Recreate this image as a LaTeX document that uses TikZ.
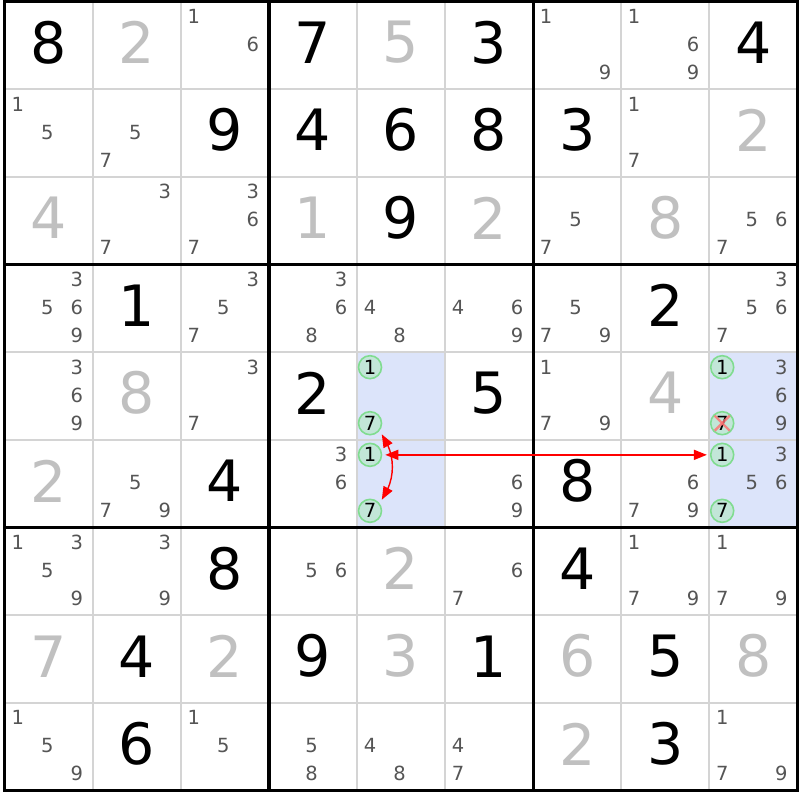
\documentclass[tikz,border=0pt]{standalone}
\usepackage{fontspec}
\setmainfont{DejaVu Sans}
\usetikzlibrary{arrows.meta,bending}
\definecolor{candgray}{HTML}{555555}
\definecolor{solvedgray}{HTML}{C0C0C0}
\definecolor{thinline}{HTML}{D4D4D4}
\definecolor{hlblue}{HTML}{DCE4FA}
\definecolor{circfill}{HTML}{C2E6D8}
\definecolor{circline}{HTML}{80DC90}
\definecolor{crossred}{HTML}{FF7070}
\def\gx{4.8}
\def\gy{1.5}
\def\cw{88.05}
\def\ch{87.67}
\tikzset{
  bigd/.style={inner sep=0pt, font=\fontsize{57}{57}\selectfont, text=black},
  solved/.style={bigd, text=solvedgray},
  cand/.style={inner sep=0pt, font=\fontsize{19.5}{19.5}\selectfont, text=candgray},
  candc/.style={circle, draw=circline, fill=circfill, line width=1.6pt, minimum size=23pt, inner sep=0pt, font=\fontsize{19.5}{19.5}\selectfont, text=black},
  thinl/.style={draw=thinline, line width=1.6pt},
  thickl/.style={draw=black, line width=3.2pt},
  redarr/.style={draw=red, line width=1.4pt, {Triangle[length=13pt,width=10pt]}-{Triangle[length=13pt,width=10pt]}, shorten <=3pt, shorten >=3pt},
  crossl/.style={draw=crossred, line width=2.4pt, opacity=0.8}
}
\begin{document}
\begin{tikzpicture}[x=1pt,y=-1pt]
\useasboundingbox (0,0) rectangle (800,800);
\fill[white] (0,0) rectangle (800,800);
% highlighted cells
\fill[hlblue] ({\gx+4*\cw},{\gy+4*\ch}) rectangle ({\gx+5*\cw},{\gy+6*\ch});
\fill[hlblue] ({\gx+8*\cw},{\gy+4*\ch}) rectangle ({\gx+9*\cw},{\gy+6*\ch});
% grid lines
\foreach \i in {1,2,4,5,7,8} {
  \draw[thinl] ({\gx+\i*\cw},{\gy}) -- ({\gx+\i*\cw},{\gy+9*\ch});
  \draw[thinl] ({\gx},{\gy+\i*\ch}) -- ({\gx+9*\cw},{\gy+\i*\ch});
}
\foreach \i in {0,3,6,9} {
  \draw[thickl] ({\gx+\i*\cw},{\gy-1.6}) -- ({\gx+\i*\cw},{\gy+9*\ch+1.6});
  \draw[thickl] ({\gx-1.6},{\gy+\i*\ch}) -- ({\gx+9*\cw+1.6},{\gy+\i*\ch});
}
% givens
\foreach \r/\c/\d in {1/1/8,1/4/7,1/6/3,1/9/4,2/3/9,2/4/4,2/5/6,2/6/8,2/7/3,3/5/9,4/2/1,4/8/2,5/4/2,5/6/5,6/3/4,6/7/8,7/3/8,7/7/4,8/2/4,8/4/9,8/6/1,8/8/5,9/2/6,9/8/3}
  \node[bigd] (g-\r-\c) at ({\gx+(\c-0.5)*\cw},{\gy+(\r-0.5)*\ch-2.8}) {\d};
% solved
\foreach \r/\c/\d in {1/2/2,1/5/5,2/9/2,3/1/4,3/4/1,3/6/2,3/8/8,5/2/8,5/8/4,6/1/2,7/5/2,8/1/7,8/3/2,8/5/3,8/7/6,8/9/8,9/7/2}
  \node[solved] (s-\r-\c) at ({\gx+(\c-0.5)*\cw},{\gy+(\r-0.5)*\ch-2.8}) {\d};
% candidates
\foreach \r/\c/\L in {1/3/{1,6},1/7/{1,9},1/8/{1,6,9},
  2/1/{1,5},2/2/{5,7},2/8/{1,7},
  3/2/{3,7},3/3/{3,6,7},3/7/{5,7},3/9/{5,6,7},
  4/1/{3,5,6,9},4/3/{3,5,7},4/4/{3,6,8},4/5/{4,8},4/6/{4,6,9},4/7/{5,7,9},4/9/{3,5,6,7},
  5/1/{3,6,9},5/3/{3,7},5/7/{1,7,9},5/9/{3,6,9},
  6/2/{5,7,9},6/4/{3,6},6/6/{6,9},6/8/{6,7,9},6/9/{3,5,6},
  7/1/{1,3,5,9},7/2/{3,9},7/4/{5,6},7/6/{6,7},7/8/{1,7,9},7/9/{1,7,9},
  9/1/{1,5,9},9/3/{1,5},9/4/{5,8},9/5/{4,8},9/6/{4,7},9/9/{1,7,9}} {
  \foreach \d in \L {
    \pgfmathtruncatemacro\kx{mod(\d-1,3)}
    \pgfmathtruncatemacro\ky{int((\d-1)/3)}
    \node[cand] (c-\r-\c-\d) at ({\gx+(\c-1)*\cw+13+29.5*\kx},{\gy+(\r-1)*\ch+15+28*\ky}) {\d};
  }
}
% circled candidates
\foreach \r/\c/\d in {5/5/1,5/5/7,6/5/1,6/5/7,5/9/1,5/9/7,6/9/1,6/9/7} {
  \pgfmathtruncatemacro\kx{mod(\d-1,3)}
  \pgfmathtruncatemacro\ky{int((\d-1)/3)}
  \node[candc] (c-\r-\c-\d) at ({\gx+(\c-1)*\cw+13+29.5*\kx},{\gy+(\r-1)*\ch+15+28*\ky}) {\d};
}
% elimination cross
\draw[crossl] ([shift={(-7.5,-7.5)}]c-5-9-7.center) -- ([shift={(7.5,7.5)}]c-5-9-7.center);
\draw[crossl] ([shift={(-7.5,7.5)}]c-5-9-7.center) -- ([shift={(7.5,-7.5)}]c-5-9-7.center);
% links
\draw[redarr] (c-6-9-1) -- (c-6-5-1);
\draw[redarr, shorten <=4pt, shorten >=4pt] (c-5-5-7.-40) to[out=-52,in=52] (c-6-5-7.40);
\end{tikzpicture}
\end{document}
